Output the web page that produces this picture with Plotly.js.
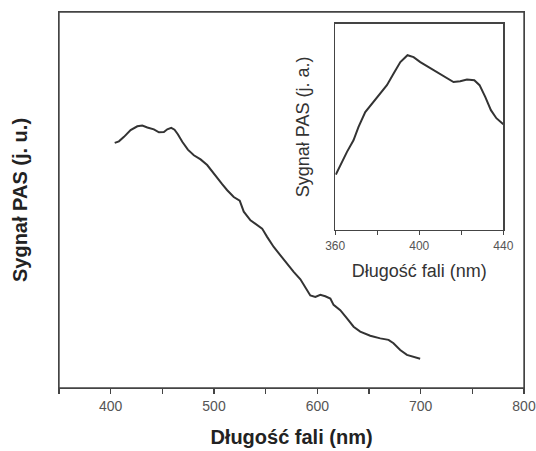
<!DOCTYPE html>
<html>
<head>
<meta charset="utf-8">
<script src="https://cdn.plot.ly/plotly-3.0.1.min.js"></script>
<style>html,body{margin:0;padding:0;background:#fff;}#chart{width:536px;height:451px;}</style>
</head>
<body>
<div id="chart"></div>
<script>
// Main spectrum: wavelength (nm) vs PAS signal (arb. units)
const mainWavelength = [403.9,408.0,412.9,419.3,425.8,430.6,435.5,441.8,446.7,451.5,454.8,458.6,461.8,465.0,469.3,474.7,480.5,487.0,493.4,498.3,503.1,507.9,512.8,519.1,524.9,528.8,535.3,541.7,546.6,551.4,557.8,564.3,570.7,577.1,583.6,588.4,593.2,598.1,602.9,607.7,612.6,615.7,622.2,628.7,635.1,641.5,651.2,660.9,668.9,673.7,680.2,686.7,693.0,699.5];
const mainSignal = [65.2,65.6,66.8,68.6,69.6,69.8,69.3,68.8,68.0,68.1,68.8,69.2,68.7,67.5,65.5,63.4,61.9,60.8,59.3,57.5,55.7,54.2,52.6,50.8,49.8,46.9,44.6,43.3,42.4,40.2,37.5,35.3,33.0,30.9,28.9,26.9,24.6,24.2,24.8,24.4,23.8,22.1,20.7,18.5,16.3,15.0,13.9,13.2,12.8,11.9,10.1,8.8,8.3,7.8];

// Inset spectrum
const insetWavelength = [360.3,362.4,365.6,368.7,371.1,374.3,377.5,381.4,384.6,387.8,391.0,394.4,397.3,400.5,404.4,408.4,412.4,416.3,419.5,422.7,426.2,428.7,431.4,434.1,436.7,440.0];
const insetSignal = [26.9,31.4,37.9,43.5,50.0,57.2,61.3,66.1,70.2,75.8,81.4,84.7,83.8,81.4,79.0,76.3,73.9,71.7,72.1,72.9,72.6,70.2,64.5,58.1,54.2,51.3];

// Tick labels
const mainTickVals = [350,400,450,500,550,600,650,700,750,800];
const mainTickText = ['','400','','500','','600','','700','','800'];
const insetTickVals = [360,380,400,420,440];
const insetTickText = ['360','','400','','440'];

const FONT = 'Liberation Sans, Arial, sans-serif';

const traces = [
  {x: mainWavelength, y: mainSignal, type: 'scatter', mode: 'lines',
   line: {color: '#333', width: 2}, xaxis: 'x', yaxis: 'y', hoverinfo: 'skip'},
  {x: insetWavelength, y: insetSignal, type: 'scatter', mode: 'lines',
   line: {color: '#333', width: 2}, xaxis: 'x2', yaxis: 'y2', hoverinfo: 'skip'}
];

const layout = {
  width: 536, height: 451,
  margin: {l: 59, r: 12, t: 12, b: 63},
  paper_bgcolor: '#fff', plot_bgcolor: 'rgba(0,0,0,0)',
  showlegend: false,
  font: {family: FONT, color: '#222'},
  xaxis: {
    domain: [0, 1], anchor: 'y',
    range: [350, 800], tickmode: 'array', tickvals: mainTickVals, ticktext: mainTickText,
    ticks: 'outside', ticklen: 5, tickwidth: 1.2, tickcolor: '#444',
    showline: true, mirror: true, linecolor: '#444', linewidth: 1.4,
    showgrid: false, zeroline: false,
    tickfont: {family: FONT, size: 14, color: '#555'},
    title: {text: 'Długość fali (nm)', standoff: 16, font: {family: FONT, size: 20, color: '#222', weight: 'bold'}}
  },
  yaxis: {
    domain: [0, 1], anchor: 'x',
    range: [0, 100], ticks: '', showticklabels: false,
    showline: true, mirror: true, linecolor: '#444', linewidth: 1.4,
    showgrid: false, zeroline: false,
    title: {text: 'Sygnał PAS (j. u.)', standoff: 24, font: {family: FONT, size: 20, color: '#222', weight: 'bold'}}
  },
  xaxis2: {
    domain: [0.594, 0.9555], anchor: 'y2',
    range: [360, 440], tickmode: 'array', tickvals: insetTickVals, ticktext: insetTickText,
    ticks: 'outside', ticklen: 4, tickwidth: 1, tickcolor: '#444',
    showline: true, mirror: true, linecolor: '#444', linewidth: 1.3,
    showgrid: false, zeroline: false,
    tickfont: {family: FONT, size: 12, color: '#555'},
    title: {text: 'Długość fali (nm)', standoff: 12, font: {family: FONT, size: 18, color: '#333'}}
  },
  yaxis2: {
    domain: [0.42, 0.969], anchor: 'x2',
    range: [0, 100], ticks: '', showticklabels: false,
    showline: true, mirror: true, linecolor: '#444', linewidth: 1.3,
    showgrid: false, zeroline: false,
    title: {text: 'Sygnał PAS (j. a.)', standoff: 19, font: {family: FONT, size: 18, color: '#333'}}
  },
  shapes: [
    {type: 'rect', xref: 'x domain', yref: 'y domain', x0: 0, x1: 1, y0: 0, y1: 1,
     line: {color: '#444', width: 1.4}, fillcolor: 'rgba(0,0,0,0)', layer: 'above'}
  ]
};

Plotly.newPlot('chart', traces, layout, {staticPlot: true, displayModeBar: false});
</script>
</body>
</html>
